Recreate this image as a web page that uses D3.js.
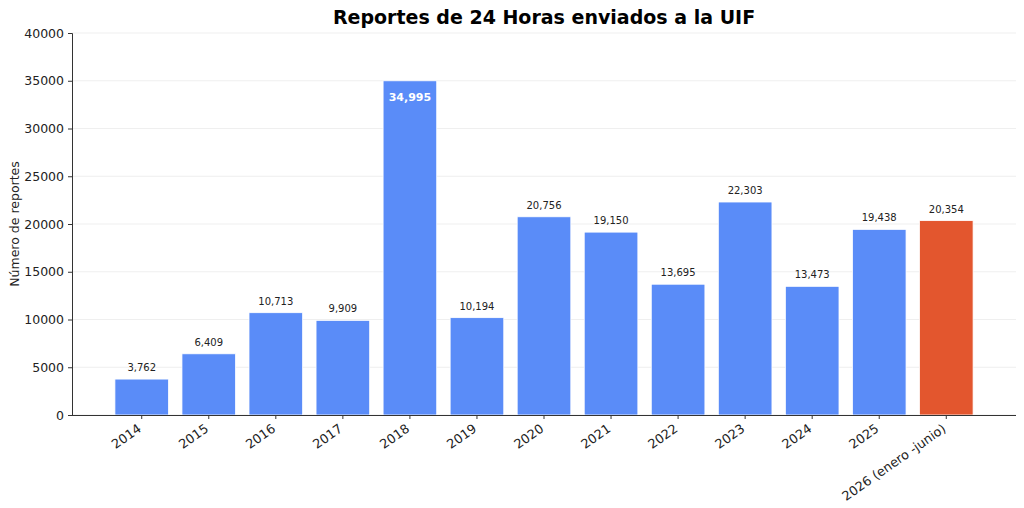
<!DOCTYPE html>
<html><head><meta charset="utf-8">
<script src="https://cdn.jsdelivr.net/npm/d3@7"></script>
<style>
body{margin:0;background:#fff;}
svg{display:block;font-family:"DejaVu Sans",sans-serif;}
</style></head>
<body><svg id="c" width="1024" height="508"></svg>
<script>
const categories = ["2014","2015","2016","2017","2018","2019","2020","2021","2022","2023","2024","2025","2026 (enero -junio)"];
const values = [3762,6409,10713,9909,34995,10194,20756,19150,13695,22303,13473,19438,20354];
const yTicks = [0,5000,10000,15000,20000,25000,30000,35000,40000];
const title = "Reportes de 24 Horas enviados a la UIF";
const yLabel = "Número de reportes";

const svg = d3.select("#c");
const m = {left:72, right:1016, top:33, bottom:415};
const x = d3.scaleBand().domain(categories).range([m.left, m.right]).paddingInner(0.2).paddingOuter(0.64);
const y = d3.scaleLinear().domain([0,40000]).range([m.bottom, m.top]);

// grid
svg.append("g").selectAll("line").data(yTicks).join("line")
  .attr("x1", m.left).attr("x2", m.right)
  .attr("y1", d=>y(d)).attr("y2", d=>y(d))
  .attr("stroke", "#ebebeb").attr("stroke-width", 0.8);

// bars
svg.append("g").selectAll("rect").data(values).join("rect")
  .attr("x", (d,i)=>x(categories[i]))
  .attr("width", x.bandwidth())
  .attr("y", d=>y(d))
  .attr("height", d=>y(0)-y(d))
  .attr("fill", (d,i)=> i===categories.length-1 ? "#e3562e" : "#5a8cf8")
  .attr("stroke", "#ffffff").attr("stroke-width", 0.8);

// value labels
const fmt = d3.format(",");
const maxV = d3.max(values);
svg.append("g").selectAll("text").data(values).join("text")
  .attr("x", (d,i)=>x(categories[i]) + x.bandwidth()/2)
  .attr("y", d=> d===maxV ? y(d)+20 : y(d)-8)
  .attr("text-anchor", "middle")
  .attr("font-size", d=> d===maxV ? 11 : 10)
  .attr("font-weight", d=> d===maxV ? "bold" : "normal")
  .attr("fill", d=> d===maxV ? "#ffffff" : "#222")
  .text(d=>fmt(d));

// y axis
const ya = svg.append("g").attr("transform", `translate(${m.left},0)`)
  .call(d3.axisLeft(y).tickValues(yTicks).tickFormat(d3.format("d")).tickSize(4).tickPadding(4));
ya.selectAll("text").attr("font-size", 12.5).attr("fill", "#222").attr("font-family", "DejaVu Sans");
ya.selectAll("line,path").attr("stroke", "#333");

// x axis
const xa = svg.append("g").attr("transform", `translate(0,${m.bottom})`)
  .call(d3.axisBottom(x).tickSize(4).tickSizeOuter(0).tickPadding(4));
xa.select("path").attr("d", `M${m.left},0.5H${m.right}`);
xa.selectAll("line,path").attr("stroke", "#333");
xa.selectAll("text").attr("font-size", 12.8).attr("fill", "#222").attr("font-family", "DejaVu Sans")
  .attr("text-anchor", "end").attr("dy", "0.35em")
  .attr("transform", "translate(-2,12) rotate(-35)").attr("y", 0).attr("x", 0);

// title
svg.append("text").attr("x", (m.left+m.right)/2).attr("y", 24)
  .attr("text-anchor", "middle").attr("font-size", 19).attr("font-weight", "bold").attr("fill", "#000")
  .text(title);

// y label
svg.append("text").attr("transform", `translate(19,${(m.top+m.bottom)/2}) rotate(-90)`)
  .attr("text-anchor", "middle").attr("font-size", 12.5).attr("fill", "#222")
  .text(yLabel);
</script></body></html>
